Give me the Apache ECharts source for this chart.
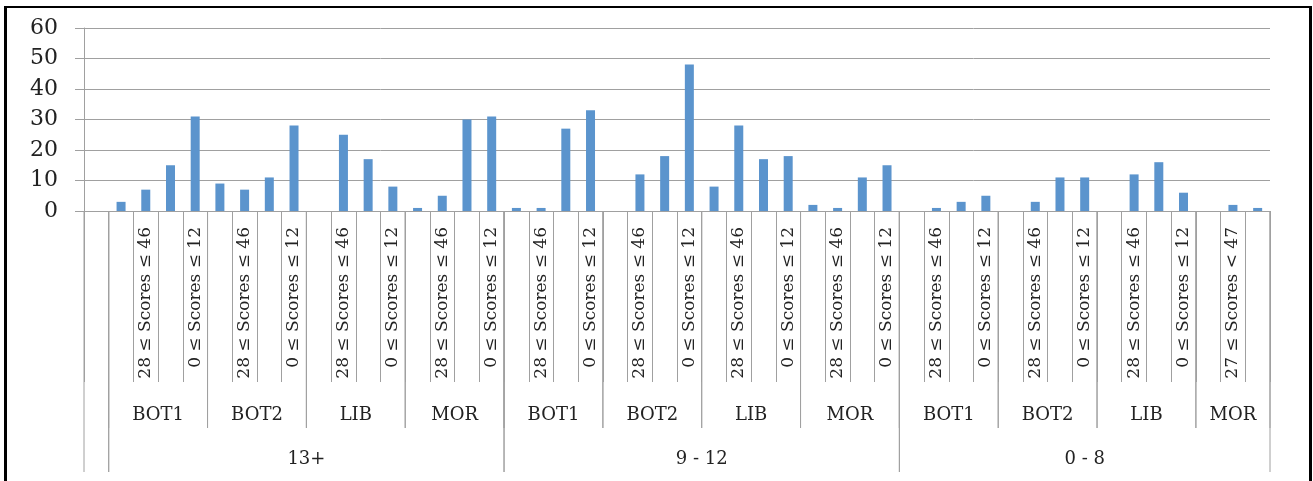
<!DOCTYPE html>
<html>
<head>
<meta charset="utf-8">
<script src="https://cdn.jsdelivr.net/npm/echarts@6/dist/echarts.min.js"></script>
<style>
  html, body { margin: 0; padding: 0; background: #fff; }
  #chart { position: absolute; left: 0; top: 0; width: 1313px; height: 481px; }
  #frame { position: absolute; left: 4px; top: 6px; width: 1302px; height: 500px;
           border-left: 3px solid #000; border-right: 3px solid #000; border-top: 2px solid #000;
           pointer-events: none; }
</style>
</head>
<body>
<div id="chart"></div>
<div id="frame"></div>
<script>
// ---- data ----
const ageGroups = ['13+', '9 - 12', '0 - 8'];
const sites = ['BOT1', 'BOT2', 'LIB', 'MOR'];
const scoreBands = ['47 ≤ Scores', '28 ≤ Scores ≤ 46', '13 ≤ Scores ≤ 27', '0 ≤ Scores ≤ 12'];
const scoreBandsMor08 = ['47 ≤ Scores', '27 ≤ Scores < 47', 'Scores < 27'];

const values13Plus = [[3, 7, 15, 31], [9, 7, 11, 28], [0, 25, 17, 8], [1, 5, 30, 31]];
const values9to12  = [[1, 1, 27, 33], [0, 12, 18, 48], [8, 28, 17, 18], [2, 1, 11, 15]];
const values0to8   = [[0, 1, 3, 5], [0, 3, 11, 11], [0, 12, 16, 6], [0, 2, 1]];
const yTicks = { min: 0, max: 60, interval: 10 };

// ---- build category table ----
const allValues = [values13Plus, values9to12, values0to8];
const categories = [''];       // leading empty column
const barValues = [null];
const siteSpans = [];          // [start, end] per site
const siteNames = [];
const ageSpans = [[0, 0, 0]];  // leading empty column
const ageNames = [''];
allValues.forEach((group, gi) => {
  const gStart = categories.length;
  group.forEach((vals, si) => {
    const bands = vals.length === 4 ? scoreBands : scoreBandsMor08;
    const sStart = categories.length;
    vals.forEach((v, k) => { categories.push(bands[k]); barValues.push(v); });
    siteSpans.push([sStart, categories.length - 1, 0]);
    siteNames.push(sites[si]);
  });
  ageSpans.push([gStart, categories.length - 1, 0]);
  ageNames.push(ageGroups[gi]);
});

const FONT = 'DejaVu Serif';
const LINE = '#a0a0a0';
const TXT = '#222';

function makeRender(names, lineLen, textOffset) {
  return function (params, api) {
    const s = api.value(0), e = api.value(1);
    const bw = api.size([1, 0])[0];
    const p0 = api.coord([s, 0]);
    const p1 = api.coord([e, 0]);
    const x0 = p0[0] - bw / 2, x1 = p1[0] + bw / 2;
    const y0 = p0[1];
    return {
      type: 'group',
      silent: true,
      children: [
        { type: 'line', shape: { x1: x0, y1: y0, x2: x0, y2: y0 + lineLen }, style: { stroke: LINE, lineWidth: 1 } },
        { type: 'line', shape: { x1: x1, y1: y0, x2: x1, y2: y0 + lineLen }, style: { stroke: LINE, lineWidth: 1 } },
        { type: 'text', x: (x0 + x1) / 2, y: y0 + textOffset,
          style: { text: names[params.dataIndex], fill: TXT, fontFamily: FONT, fontSize: 18,
                   align: 'center', verticalAlign: 'middle' } }
      ]
    };
  };
}

const chart = echarts.init(document.getElementById('chart'), null, { renderer: 'canvas' });
chart.setOption({
  backgroundColor: '#fff',
  animation: false,
  grid: { left: 84, right: 43, top: 28, bottom: 270, containLabel: false, outerBoundsMode: 'none' },
  xAxis: {
    type: 'category',
    data: categories,
    boundaryGap: true,
    axisLine: { show: true, lineStyle: { color: LINE, width: 1 } },
    axisTick: { show: true, interval: 0, length: 171, lineStyle: { color: LINE, width: 1 } },
    axisLabel: {
      rotate: 90, margin: 16, interval: (i) => i > 0 && i % 2 === 0,
      fontFamily: FONT, fontSize: 17, color: TXT
    },
    splitLine: { show: false }
  },
  yAxis: {
    type: 'value',
    min: yTicks.min, max: yTicks.max, interval: yTicks.interval,
    axisLine: { show: true, lineStyle: { color: LINE, width: 1 } },
    axisTick: { show: true, length: 9, lineStyle: { color: LINE, width: 1 } },
    axisLabel: { fontFamily: FONT, fontSize: 22, color: TXT, margin: 26, padding: [9, 0, 0, 0] },
    splitLine: { show: true, lineStyle: { color: LINE, width: 1 } }
  },
  series: [
    {
      type: 'bar', data: barValues, barWidth: 9,
      itemStyle: { color: '#5b94cd', borderWidth: 0 },
      silent: true
    },
    {
      type: 'custom', clip: false, silent: true,
      encode: { x: [0, 1], y: 2 },
      data: siteSpans,
      renderItem: makeRender(siteNames, 217, 204)
    },
    {
      type: 'custom', clip: false, silent: true,
      encode: { x: [0, 1], y: 2 },
      data: ageSpans,
      renderItem: makeRender(ageNames, 261, 248)
    }
  ]
});
</script>
</body>
</html>
